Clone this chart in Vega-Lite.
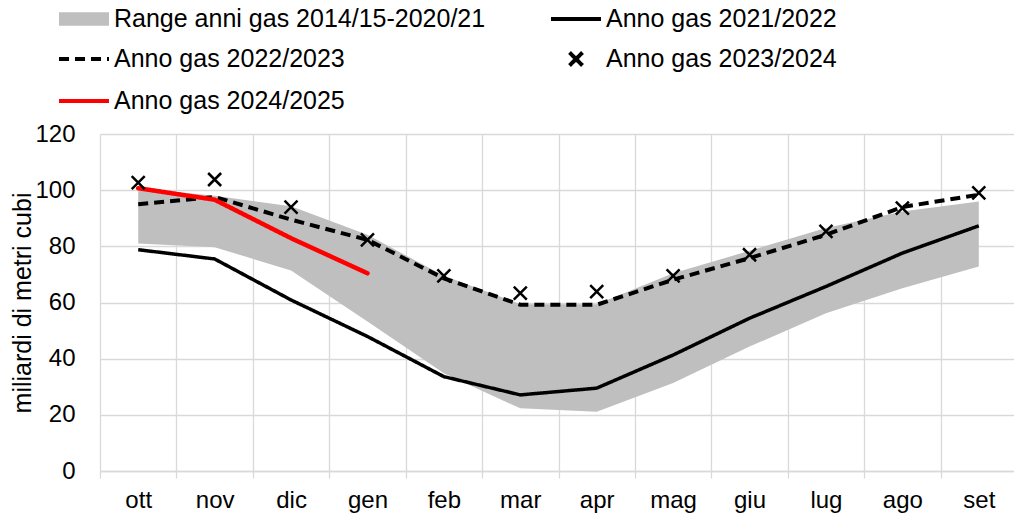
{
  "$schema": "https://vega.github.io/schema/vega-lite/v6.json",
  "width": 914,
  "height": 337,
  "autosize": {"type": "none"},
  "padding": {"left": 100, "top": 134, "right": 0, "bottom": 49},
  "background": "#ffffff",
  "config": {
    "font": "Liberation Sans",
    "view": {"stroke": null},
    "axis": {"labelColor": "#000000", "titleColor": "#000000", "labelFont": "Liberation Sans", "titleFont": "Liberation Sans"},
    "legend": {
      "labelFont": "Liberation Sans",
      "labelColor": "#000000",
      "orient": "none",
      "direction": "horizontal",
      "legendX": -43,
      "legendY": -142,
      "columns": 2,
      "columnPadding": 57,
      "rowPadding": 0,
      "padding": 0,
      "symbolSize": 2500,
      "symbolOffset": 0,
      "symbolStrokeWidth": 4,
      "symbolFillColor": "transparent",
      "labelFontSize": 25,
      "labelOffset": 3,
      "labelLimit": 0
    }
  },
  "datasets": {
    "range": [
      {"mese": "ott", "min": 81.0, "max": 100.6},
      {"mese": "nov", "min": 79.7, "max": 98.0},
      {"mese": "dic", "min": 71.4, "max": 94.3},
      {"mese": "gen", "min": 53.2, "max": 84.1},
      {"mese": "feb", "min": 34.8, "max": 69.5},
      {"mese": "mar", "min": 22.3, "max": 59.4},
      {"mese": "apr", "min": 21.1, "max": 59.4},
      {"mese": "mag", "min": 31.3, "max": 70.4},
      {"mese": "giu", "min": 44.3, "max": 78.4},
      {"mese": "lug", "min": 56.2, "max": 86.5},
      {"mese": "ago", "min": 65.1, "max": 92.4},
      {"mese": "set", "min": 72.8, "max": 96.0}
    ],
    "serie": [
      {"mese": "ott", "serie": "Anno gas 2021/2022", "valore": 78.8},
      {"mese": "nov", "serie": "Anno gas 2021/2022", "valore": 75.5},
      {"mese": "dic", "serie": "Anno gas 2021/2022", "valore": 60.9},
      {"mese": "gen", "serie": "Anno gas 2021/2022", "valore": 47.9},
      {"mese": "feb", "serie": "Anno gas 2021/2022", "valore": 33.6},
      {"mese": "mar", "serie": "Anno gas 2021/2022", "valore": 27.1},
      {"mese": "apr", "serie": "Anno gas 2021/2022", "valore": 29.5},
      {"mese": "mag", "serie": "Anno gas 2021/2022", "valore": 41.3},
      {"mese": "giu", "serie": "Anno gas 2021/2022", "valore": 54.4},
      {"mese": "lug", "serie": "Anno gas 2021/2022", "valore": 65.7},
      {"mese": "ago", "serie": "Anno gas 2021/2022", "valore": 77.6},
      {"mese": "set", "serie": "Anno gas 2021/2022", "valore": 87.3},
      {"mese": "ott", "serie": "Anno gas 2022/2023", "valore": 95.0},
      {"mese": "nov", "serie": "Anno gas 2022/2023", "valore": 97.6},
      {"mese": "dic", "serie": "Anno gas 2022/2023", "valore": 89.5},
      {"mese": "gen", "serie": "Anno gas 2022/2023", "valore": 82.3},
      {"mese": "feb", "serie": "Anno gas 2022/2023", "valore": 68.6},
      {"mese": "mar", "serie": "Anno gas 2022/2023", "valore": 59.2},
      {"mese": "apr", "serie": "Anno gas 2022/2023", "valore": 59.2},
      {"mese": "mag", "serie": "Anno gas 2022/2023", "valore": 68.1},
      {"mese": "giu", "serie": "Anno gas 2022/2023", "valore": 75.8},
      {"mese": "lug", "serie": "Anno gas 2022/2023", "valore": 84.1},
      {"mese": "ago", "serie": "Anno gas 2022/2023", "valore": 94.0},
      {"mese": "set", "serie": "Anno gas 2022/2023", "valore": 98.4},
      {"mese": "ott", "serie": "Anno gas 2023/2024", "valore": 102.7},
      {"mese": "nov", "serie": "Anno gas 2023/2024", "valore": 103.8},
      {"mese": "dic", "serie": "Anno gas 2023/2024", "valore": 94.0},
      {"mese": "gen", "serie": "Anno gas 2023/2024", "valore": 82.3},
      {"mese": "feb", "serie": "Anno gas 2023/2024", "valore": 69.5},
      {"mese": "mar", "serie": "Anno gas 2023/2024", "valore": 63.3},
      {"mese": "apr", "serie": "Anno gas 2023/2024", "valore": 63.9},
      {"mese": "mag", "serie": "Anno gas 2023/2024", "valore": 69.5},
      {"mese": "giu", "serie": "Anno gas 2023/2024", "valore": 77.0},
      {"mese": "lug", "serie": "Anno gas 2023/2024", "valore": 85.3},
      {"mese": "ago", "serie": "Anno gas 2023/2024", "valore": 93.6},
      {"mese": "set", "serie": "Anno gas 2023/2024", "valore": 99.0},
      {"mese": "ott", "serie": "Anno gas 2024/2025", "valore": 100.7},
      {"mese": "nov", "serie": "Anno gas 2024/2025", "valore": 96.6},
      {"mese": "dic", "serie": "Anno gas 2024/2025", "valore": 82.9},
      {"mese": "gen", "serie": "Anno gas 2024/2025", "valore": 70.4}
    ]
  },
  "encoding": {
    "x": {
      "field": "mese",
      "type": "nominal",
      "sort": ["ott", "nov", "dic", "gen", "feb", "mar", "apr", "mag", "giu", "lug", "ago", "set"],
      "bandPosition": 0.5,
      "scale": {"type": "band", "paddingInner": 0, "paddingOuter": 0, "range": [0, 917]},
      "axis": {
        "title": null,
        "labelAngle": 0,
        "labelFontSize": 24,
        "labelPadding": 10,
        "tickBand": "extent",
        "ticks": true,
        "tickSize": 7,
        "tickColor": "#D9D9D9",
        "tickWidth": 1.3,
        "domain": true,
        "domainColor": "#D9D9D9",
        "domainWidth": 1.3,
        "grid": true,
        "gridColor": "#D9D9D9",
        "gridWidth": 1.3
      }
    }
  },
  "layer": [
    {
      "data": {"name": "range"},
      "mark": {"type": "area", "opacity": 1, "color": "#BFBFBF"},
      "encoding": {
        "y": {
          "field": "min",
          "type": "quantitative",
          "scale": {"domain": [0, 120], "nice": false},
          "axis": {
            "title": "miliardi di metri cubi",
            "titleFontSize": 25,
            "titleFontWeight": "normal",
            "titleAngle": -90,
            "titleAlign": "center",
            "titleBaseline": "middle",
            "titleX": -78,
            "titleY": 168.5,
            "values": [0, 20, 40, 60, 80, 100, 120],
            "labelFontSize": 24,
            "labelPadding": 25,
            "domain": false,
            "ticks": false,
            "grid": true,
            "gridColor": "#D9D9D9",
            "gridWidth": 1.3
          }
        },
        "y2": {"field": "max"}
      }
    },
    {
      "data": {"name": "serie"},
      "transform": [{"filter": "datum.serie === 'Anno gas 2021/2022'"}],
      "mark": {"type": "line", "strokeCap": "butt", "strokeWidth": 3.5},
      "encoding": {
        "y": {"field": "valore", "type": "quantitative"},
        "color": {
          "field": "serie",
          "type": "nominal",
          "legend": {"title": null},
          "scale": {
            "domain": ["Range anni gas 2014/15-2020/21", "Anno gas 2021/2022", "Anno gas 2022/2023", "Anno gas 2023/2024", "Anno gas 2024/2025"],
            "range": ["#BFBFBF", "#000000", "#000000", "#000000", "#FF0000"]
          }
        },
        "strokeDash": {
          "field": "serie",
          "type": "nominal",
          "legend": {"title": null},
          "scale": {
            "domain": ["Range anni gas 2014/15-2020/21", "Anno gas 2021/2022", "Anno gas 2022/2023", "Anno gas 2023/2024", "Anno gas 2024/2025"],
            "range": [[1, 0], [1, 0], [10, 6], [1, 0], [1, 0]]
          }
        }
      }
    },
    {
      "data": {"name": "serie"},
      "transform": [{"filter": "datum.serie === 'Anno gas 2022/2023'"}],
      "mark": {"type": "line", "strokeCap": "butt", "strokeWidth": 4},
      "encoding": {
        "y": {"field": "valore", "type": "quantitative"},
        "color": {"field": "serie", "type": "nominal", "legend": {"title": null}},
        "strokeDash": {"field": "serie", "type": "nominal", "legend": {"title": null}}
      }
    },
    {
      "data": {"name": "serie"},
      "transform": [{"filter": "datum.serie === 'Anno gas 2024/2025'"}],
      "mark": {"type": "line", "strokeCap": "round", "strokeWidth": 4.5},
      "encoding": {
        "y": {"field": "valore", "type": "quantitative"},
        "color": {"field": "serie", "type": "nominal", "legend": {"title": null}},
        "strokeDash": {"field": "serie", "type": "nominal", "legend": {"title": null}}
      }
    },
    {
      "data": {"name": "serie"},
      "transform": [{"filter": "datum.serie === 'Anno gas 2023/2024'"}],
      "mark": {"type": "point", "size": 2500, "filled": false, "opacity": 1, "strokeWidth": 2.5},
      "encoding": {
        "y": {"field": "valore", "type": "quantitative"},
        "color": {"field": "serie", "type": "nominal", "legend": {"title": null}},
        "shape": {
          "field": "serie",
          "type": "nominal",
          "legend": {"title": null},
          "scale": {
            "domain": ["Range anni gas 2014/15-2020/21", "Anno gas 2021/2022", "Anno gas 2022/2023", "Anno gas 2023/2024", "Anno gas 2024/2025"],
            "range": ["M-1,-0.19H1M-1,-0.064H1M-1,0.064H1M-1,0.19H1", "stroke", "stroke", "M-0.26,-0.26L0.26,0.26M-0.26,0.26L0.26,-0.26", "stroke"]
          }
        }
      }
    }
  ]
}
